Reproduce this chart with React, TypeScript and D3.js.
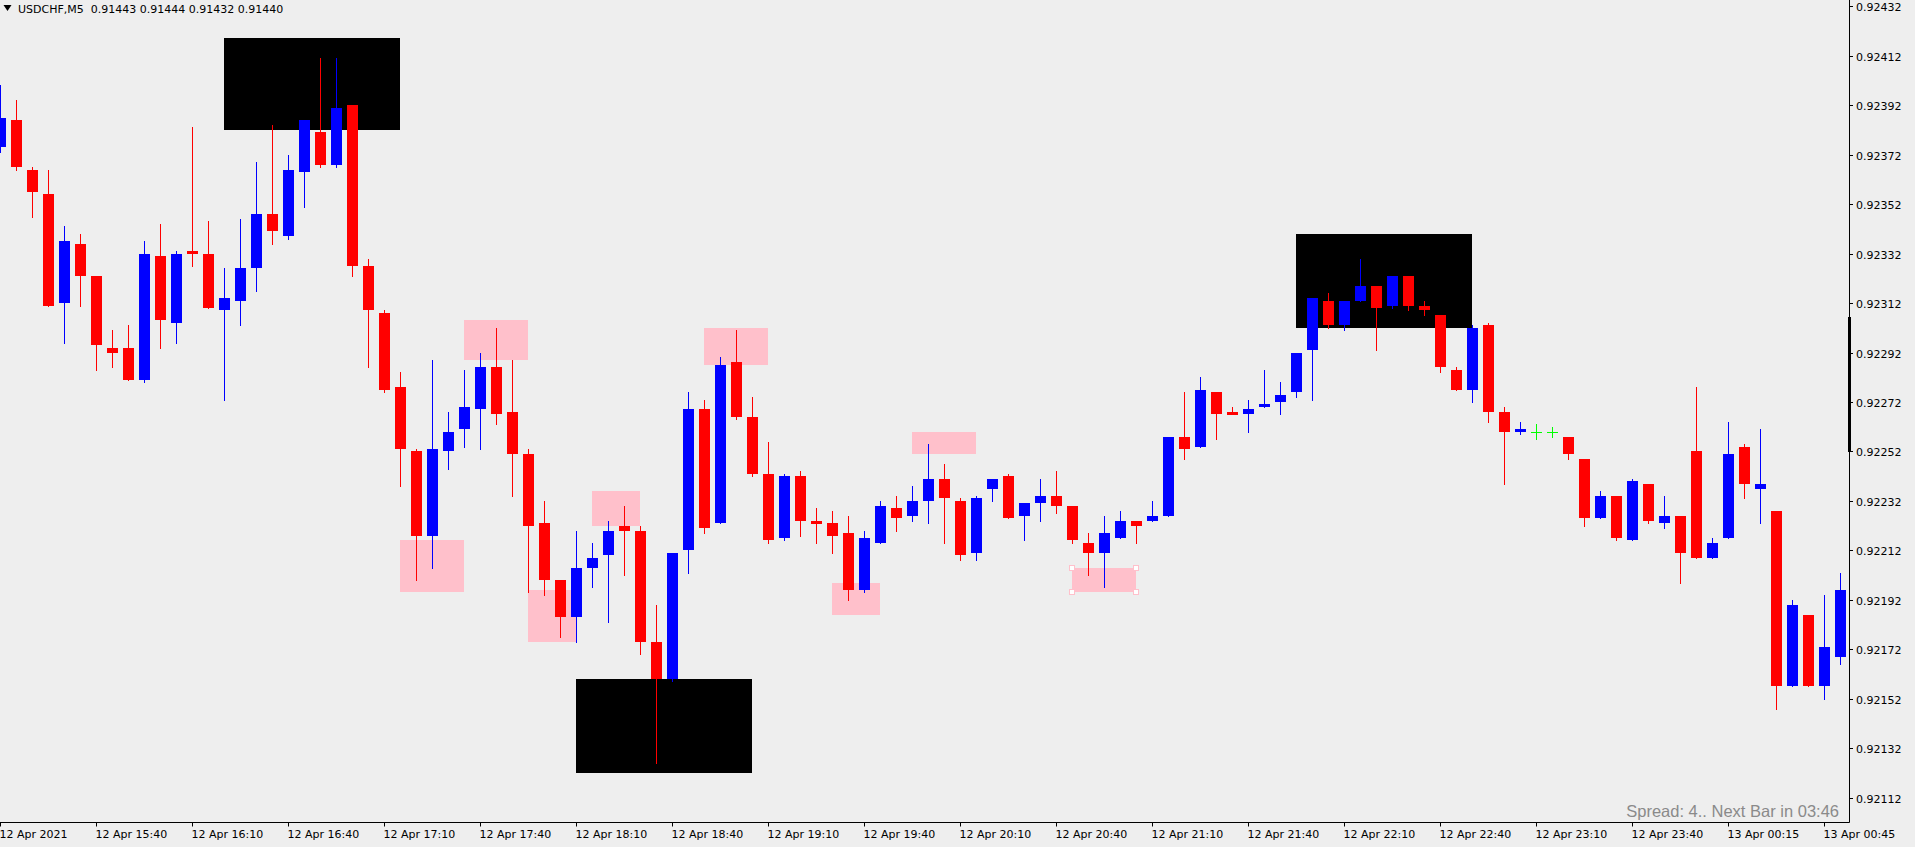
import React, { useEffect } from "react";
import * as d3 from "d3";

// ---- Data (USDCHF M5) ----
const opens = [
  0.92375, 0.92386, 0.92366, 0.92356, 0.92312, 0.92336, 0.92323, 0.92294, 0.92294, 0.92281,
  0.92331, 0.92304, 0.92333, 0.92332, 0.92309, 0.92313, 0.92326, 0.92348, 0.92339, 0.92365,
  0.92381, 0.92368, 0.92392, 0.92327, 0.92308, 0.92278, 0.92252, 0.92218, 0.92252, 0.92261,
  0.92269, 0.92286, 0.92268, 0.92251, 0.92223, 0.92200, 0.92185, 0.92205, 0.92210, 0.92222,
  0.92220, 0.92175, 0.92160, 0.92212, 0.92269, 0.92223, 0.92288, 0.92266, 0.92243, 0.92217,
  0.92242, 0.92224, 0.92223, 0.92219, 0.92196, 0.92215, 0.92229, 0.92226, 0.92232, 0.92241,
  0.92232, 0.92211, 0.92237, 0.92242, 0.92226, 0.92231, 0.92234, 0.92230, 0.92215, 0.92211,
  0.92217, 0.92224, 0.92224, 0.92226, 0.92258, 0.92254, 0.92276, 0.92268, 0.92267, 0.92270,
  0.92272, 0.92276, 0.92293, 0.92313, 0.92303, 0.92313, 0.92319, 0.92311, 0.92323, 0.92311,
  0.92307, 0.92285, 0.92277, 0.92303, 0.92268, 0.92260, 0.92260, 0.92260, 0.92258, 0.92249,
  0.92225, 0.92234, 0.92216, 0.92239, 0.92223, 0.92226, 0.92252, 0.92209, 0.92217, 0.92254,
  0.92237, 0.92228, 0.92157, 0.92186, 0.92157, 0.92169,
];
const highs = [
  0.92400, 0.92394, 0.92367, 0.92366, 0.92343, 0.92340, 0.92323, 0.92301, 0.92303, 0.92337,
  0.92344, 0.92333, 0.92383, 0.92345, 0.92326, 0.92346, 0.92369, 0.92384, 0.92372, 0.92386,
  0.92411, 0.92411, 0.92392, 0.92330, 0.92309, 0.92284, 0.92253, 0.92289, 0.92268, 0.92285,
  0.92292, 0.92302, 0.92289, 0.92253, 0.92232, 0.92200, 0.92220, 0.92215, 0.92224, 0.92230,
  0.92222, 0.92190, 0.92211, 0.92276, 0.92273, 0.92290, 0.92301, 0.92274, 0.92256, 0.92243,
  0.92244, 0.92229, 0.92228, 0.92226, 0.92220, 0.92232, 0.92234, 0.92238, 0.92255, 0.92247,
  0.92233, 0.92234, 0.92241, 0.92243, 0.92231, 0.92241, 0.92244, 0.92230, 0.92219, 0.92226,
  0.92228, 0.92224, 0.92232, 0.92258, 0.92276, 0.92282, 0.92276, 0.92270, 0.92273, 0.92285,
  0.92280, 0.92292, 0.92314, 0.92316, 0.92313, 0.92330, 0.92319, 0.92323, 0.92323, 0.92313,
  0.92307, 0.92286, 0.92303, 0.92304, 0.92270, 0.92264, 0.92263, 0.92262, 0.92258, 0.92249,
  0.92236, 0.92234, 0.92241, 0.92239, 0.92234, 0.92226, 0.92278, 0.92217, 0.92264, 0.92255,
  0.92261, 0.92228, 0.92192, 0.92186, 0.92194, 0.92203,
];
const lows = [
  0.92373, 0.92366, 0.92347, 0.92311, 0.92296, 0.92311, 0.92285, 0.92286, 0.92281, 0.92280,
  0.92294, 0.92296, 0.92327, 0.92310, 0.92273, 0.92303, 0.92317, 0.92336, 0.92338, 0.92351,
  0.92367, 0.92367, 0.92323, 0.92286, 0.92276, 0.92238, 0.92200, 0.92205, 0.92245, 0.92254,
  0.92253, 0.92263, 0.92234, 0.92195, 0.92194, 0.92177, 0.92175, 0.92197, 0.92183, 0.92202,
  0.92170, 0.92126, 0.92159, 0.92203, 0.92219, 0.92223, 0.92265, 0.92242, 0.92215, 0.92216,
  0.92218, 0.92215, 0.92211, 0.92192, 0.92195, 0.92215, 0.92220, 0.92224, 0.92223, 0.92215,
  0.92208, 0.92208, 0.92232, 0.92225, 0.92216, 0.92224, 0.92227, 0.92215, 0.92202, 0.92197,
  0.92217, 0.92215, 0.92224, 0.92226, 0.92249, 0.92254, 0.92257, 0.92267, 0.92260, 0.92270,
  0.92267, 0.92274, 0.92273, 0.92302, 0.92301, 0.92313, 0.92293, 0.92310, 0.92309, 0.92307,
  0.92284, 0.92277, 0.92272, 0.92264, 0.92239, 0.92259, 0.92257, 0.92258, 0.92249, 0.92222,
  0.92225, 0.92216, 0.92216, 0.92223, 0.92221, 0.92199, 0.92209, 0.92209, 0.92217, 0.92233,
  0.92223, 0.92148, 0.92157, 0.92157, 0.92152, 0.92166,
];
const closes = [
  0.92387, 0.92367, 0.92357, 0.92311, 0.92337, 0.92323, 0.92295, 0.92292, 0.92281, 0.92332,
  0.92305, 0.92332, 0.92332, 0.92310, 0.92314, 0.92326, 0.92348, 0.92341, 0.92366, 0.92386,
  0.92368, 0.92391, 0.92327, 0.92309, 0.92277, 0.92253, 0.92218, 0.92253, 0.92260, 0.92270,
  0.92286, 0.92267, 0.92251, 0.92222, 0.92200, 0.92185, 0.92205, 0.92209, 0.92220, 0.92220,
  0.92175, 0.92160, 0.92211, 0.92269, 0.92221, 0.92287, 0.92266, 0.92243, 0.92216, 0.92242,
  0.92224, 0.92223, 0.92218, 0.92196, 0.92217, 0.92230, 0.92225, 0.92232, 0.92241, 0.92233,
  0.92210, 0.92233, 0.92241, 0.92225, 0.92231, 0.92234, 0.92230, 0.92216, 0.92211, 0.92219,
  0.92224, 0.92222, 0.92226, 0.92258, 0.92253, 0.92277, 0.92267, 0.92267, 0.92269, 0.92271,
  0.92275, 0.92292, 0.92314, 0.92303, 0.92313, 0.92319, 0.92310, 0.92323, 0.92311, 0.92309,
  0.92286, 0.92277, 0.92302, 0.92268, 0.92260, 0.92261, 0.92260, 0.92260, 0.92251, 0.92225,
  0.92234, 0.92217, 0.92240, 0.92224, 0.92226, 0.92211, 0.92209, 0.92215, 0.92251, 0.92239,
  0.92239, 0.92157, 0.92190, 0.92157, 0.92173, 0.92196,
];

const timeLabelBars = [0, 6, 12, 18, 24, 30, 36, 42, 48, 54, 60, 66, 72, 78, 84, 90, 96, 102, 108, 114];
const timeLabels = [
  "12 Apr 2021", "12 Apr 15:40", "12 Apr 16:10", "12 Apr 16:40", "12 Apr 17:10",
  "12 Apr 17:40", "12 Apr 18:10", "12 Apr 18:40", "12 Apr 19:10", "12 Apr 19:40",
  "12 Apr 20:10", "12 Apr 20:40", "12 Apr 21:10", "12 Apr 21:40", "12 Apr 22:10",
  "12 Apr 22:40", "12 Apr 23:10", "12 Apr 23:40", "13 Apr 00:15", "13 Apr 00:45",
];
const priceTicks = [
  0.92432, 0.92412, 0.92392, 0.92372, 0.92352, 0.92332, 0.92312, 0.92292, 0.92272,
  0.92252, 0.92232, 0.92212, 0.92192, 0.92172, 0.92152, 0.92132, 0.92112,
];

// Chart objects: rectangles [startBar, endBar, priceTop, priceBottom]
const blackBoxes = [
  [14, 25, 0.92419, 0.92382],
  [36, 47, 0.9216, 0.92122],
  [81, 92, 0.9234, 0.92302],
];
const pinkBoxes = [
  [25, 29, 0.92216, 0.92195],
  [29, 33, 0.92305, 0.92289],
  [33, 36, 0.92196, 0.92175],
  [37, 40, 0.92236, 0.92222],
  [44, 48, 0.92302, 0.92287],
  [52, 55, 0.92199, 0.92186],
  [57, 61, 0.9226, 0.92251],
  [67, 71, 0.92205, 0.92195],
];
const selectedPink = 7;

const symbolHeader = "USDCHF,M5  0.91443 0.91444 0.91432 0.91440";
const statusText = "Spread: 4.. Next Bar in 03:46";

const W = 1915;
const H = 847;
const AXIS_X = 1849.5;
const AXIS_Y = 822.5;
const BG = "#EEEEEE";
const FONT = "'DejaVu Sans', Verdana, sans-serif";

export default function App() {
  useEffect(() => {
    document.body.style.margin = "0";
    document.body.style.background = BG;
  }, []);

  const x = d3.scaleLinear().domain([0, 115]).range([0.5, 1840.5]);
  const y = d3.scaleLinear().domain([0.92112, 0.92432]).range([797.7, 6.3]);
  const bodyW = 11;

  const candles = opens.map((o, i) => {
    const c = closes[i];
    const h = highs[i];
    const l = lows[i];
    const cx = x(i);
    const color = c > o ? "#0000FF" : c < o ? "#FF0000" : "#00FF00";
    const yh = Math.round(y(h));
    const yl = Math.round(y(l));
    const yt = Math.round(y(Math.max(o, c)));
    const yb = Math.round(y(Math.min(o, c)));
    if (c === o) {
      return (
        <g key={i}>
          <line x1={cx} x2={cx} y1={yh} y2={yl + 1} stroke={color} strokeWidth={1} />
          <line x1={cx - bodyW / 2} x2={cx + bodyW / 2} y1={yt + 0.5} y2={yt + 0.5} stroke={color} strokeWidth={1} />
        </g>
      );
    }
    return (
      <g key={i}>
        <line x1={cx} x2={cx} y1={yh} y2={yl + 1} stroke={color} strokeWidth={1} />
        <rect x={cx - bodyW / 2} y={yt} width={bodyW} height={Math.max(3, yb - yt)} fill={color} />
      </g>
    );
  });

  const box = (b: number[], fill: string, key: string) => {
    const x0 = Math.floor(x(b[0]));
    const x1 = Math.floor(x(b[1]));
    const y0 = Math.round(y(b[2]));
    const y1 = Math.round(y(b[3]));
    return <rect key={key} x={x0} y={y0} width={x1 - x0} height={y1 - y0} fill={fill} />;
  };

  const sel = pinkBoxes[selectedPink];
  const sx0 = Math.floor(x(sel[0]));
  const sx1 = Math.floor(x(sel[1]));
  const sy0 = Math.round(y(sel[2]));
  const sy1 = Math.round(y(sel[3]));
  const handles = [
    [sx0, sy0],
    [sx1, sy0],
    [sx0, sy1],
    [sx1, sy1],
  ];

  return (
    <svg
      width={W}
      height={H}
      style={{ position: "absolute", left: 0, top: 0, display: "block", background: BG }}
    >
      <rect x={0} y={0} width={W} height={H} fill={BG} />
      <g>
        {blackBoxes.map((b, i) => box(b, "#000000", "bb" + i))}
        {pinkBoxes.map((b, i) => box(b, "#FFC0CB", "pb" + i))}
        {handles.map((p, i) => (
          <rect key={"h" + i} x={p[0] - 2.5} y={p[1] - 2.5} width={5} height={5} fill="#FFFFFF" stroke="#FFC0CB" strokeWidth={1} />
        ))}
      </g>
      <g>{candles}</g>

      {/* header */}
      <path d="M3.5,5 L11.5,5 L7.5,11 Z" fill="#000" />
      <text x={18} y={12.5} fontFamily={FONT} fontSize={11} fill="#000" style={{ whiteSpace: "pre" }}>
        {symbolHeader}
      </text>

      {/* axes */}
      <line x1={AXIS_X} x2={AXIS_X} y1={0} y2={AXIS_Y} stroke="#000" strokeWidth={1} />
      <line x1={0} x2={AXIS_X} y1={AXIS_Y} y2={AXIS_Y} stroke="#000" strokeWidth={1} />
      <rect x={1848} y={317} width={3} height={135} fill="#000" />

      {priceTicks.map((p, i) => {
        const py = Math.round(y(p)) + 0.5;
        return (
          <g key={"pt" + i}>
            <line x1={AXIS_X} x2={AXIS_X + 3.5} y1={py} y2={py} stroke="#000" strokeWidth={1} />
            <text x={1856} y={py + 4} fontFamily={FONT} fontSize={11} fill="#000">
              {p.toFixed(5)}
            </text>
          </g>
        );
      })}

      {timeLabelBars.map((b, i) => {
        const tx = Math.floor(x(b)) + 0.5;
        return (
          <g key={"tl" + i}>
            <line x1={tx} x2={tx} y1={AXIS_Y} y2={AXIS_Y + 4} stroke="#000" strokeWidth={1} />
            <text x={tx - 1} y={838} fontFamily={FONT} fontSize={11} fill="#000">
              {timeLabels[i]}
            </text>
          </g>
        );
      })}

      <text x={1839} y={816.5} textAnchor="end" fontFamily="'Liberation Sans', Arial, sans-serif" fontSize={16.5} fill="#8A8A8A">
        {statusText}
      </text>
    </svg>
  );
}
